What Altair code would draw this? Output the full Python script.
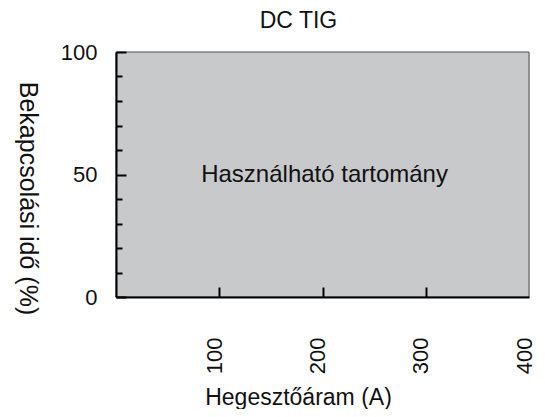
import altair as alt
import pandas as pd

# ---- data ----
x_domain = [0, 400]
y_domain = [0, 100]
region_current = [0, 400]      # usable current range (A)
region_duty = [0, 100]         # duty cycle range (%)
x_tick_labels = [100, 200, 300, 400]
x_ticks = [100, 200, 300]
y_tick_labels = [0, 50, 100]
y_ticks = [0, 10, 20, 30, 40, 50, 60, 70, 80, 90, 100]
area_label = ["Használható tartomány"]
area_label_x = [202]
area_label_y = [50]

W, H = 413, 245
FONT = "Liberation Sans"
TXT = "#111111"

region = pd.DataFrame({
    "x0": [region_current[0]], "x1": [region_current[1]],
    "y0": [region_duty[0]], "y1": [region_duty[1]],
})
label_df = pd.DataFrame({"x": area_label_x, "y": area_label_y, "t": area_label})

xs = alt.Scale(domain=x_domain, nice=False, zero=False)
ys = alt.Scale(domain=y_domain, nice=False, zero=False)

main = alt.Chart(region).mark_rect(
    fill="#c8c9cb", stroke="#505050", strokeWidth=1
).encode(
    x=alt.X("x0:Q", scale=xs, axis=alt.Axis(
        values=x_tick_labels, labelAngle=-90, labelFont=FONT, labelFontSize=22,
        labelColor=TXT, labelPadding=40, labelOffset=-5,
        labelFlush=False, labelOverlap=False,
        ticks=False, tickSize=0, grid=False,
        domainColor="black", domainWidth=2,
        title="Hegesztőáram (A)", titleFont=FONT, titleFontSize=23,
        titleFontWeight="normal", titleColor=TXT,
        titleX=182, titleY=107, titleAlign="center", titleBaseline="alphabetic",
        zindex=1)),
    x2="x1:Q",
    y=alt.Y("y0:Q", scale=ys, axis=alt.Axis(
        values=y_tick_labels, labelFont=FONT, labelFontSize=22, labelColor=TXT,
        labelPadding=19, labelFlush=False, labelOverlap=False,
        ticks=False, tickSize=0, grid=False,
        domainColor="black", domainWidth=2,
        title="Bekapcsolási idő (%)", titleFont=FONT, titleFontSize=25,
        titleFontWeight="normal", titleColor=TXT, titleAngle=90,
        titleX=-89, titleY=146, titleAlign="center", titleBaseline="middle",
        zindex=1)),
    y2="y1:Q",
)

tick_layer = alt.Chart(region).mark_rect(opacity=0).encode(
    x=alt.X("x0:Q", scale=xs, axis=alt.Axis(
        orient="top", offset=-H, values=x_ticks, labels=False, domain=False,
        ticks=True, tickSize=10, tickWidth=2, tickColor="black", grid=False,
        title="", zindex=1)),
    x2="x1:Q",
    y=alt.Y("y0:Q", scale=ys, axis=alt.Axis(
        orient="right", offset=-W, values=y_ticks, labels=False, domain=False,
        ticks=True,
        tickSize={"condition": {"test": "datum.value % 50 === 0", "value": 10}, "value": 6},
        tickWidth=2, tickColor="black", grid=False,
        title="", zindex=1)),
    y2="y1:Q",
)

text = alt.Chart(label_df).mark_text(
    font=FONT, fontSize=24, color=TXT, align="center", baseline="middle"
).encode(
    x=alt.X("x:Q", scale=xs, axis=None),
    y=alt.Y("y:Q", scale=ys, axis=None),
    text="t:N",
)

chart = alt.layer(main, tick_layer, text).resolve_axis(
    x="independent", y="independent"
).properties(
    width=W, height=H,
    title=alt.TitleParams(
        text="DC TIG", font=FONT, fontSize=23, fontWeight="normal", color=TXT,
        anchor="middle", frame="group", dx=-24, offset=8),
    autosize=alt.AutoSizeParams(type="none"),
    padding={"left": 108, "top": 44, "right": 8, "bottom": 112},
).configure_view(strokeWidth=0).configure(background="white")

chart.save("out.html", embed_options={"renderer": "svg", "actions": False})
